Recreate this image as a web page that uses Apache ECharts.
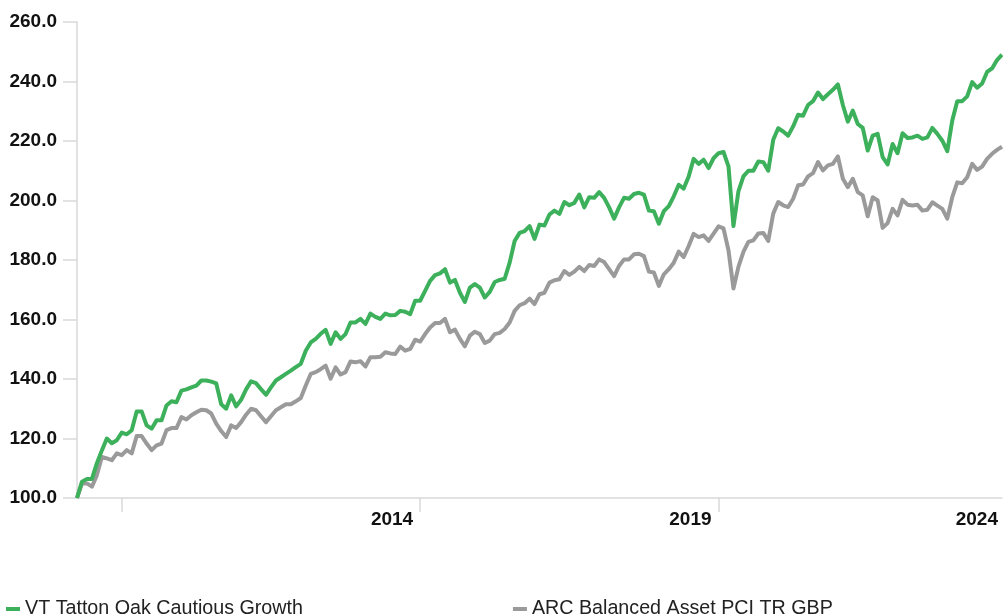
<!DOCTYPE html>
<html>
<head>
<meta charset="utf-8">
<script src="https://cdn.jsdelivr.net/npm/echarts@6/dist/echarts.min.js"></script>
<style>
  html, body { margin: 0; padding: 0; background: #fff; }
  #chart { width: 1003px; height: 616px; }
</style>
</head>
<body>
<div id="chart"></div>
<script>
// --- data ---
// month-end points, Mar 2009 .. Sep 2024
const startYear = 2009;
const startMonth = 3;
const seriesNames = ['VT Tatton Oak Cautious Growth', 'ARC Balanced Asset PCI TR GBP'];

const tattonValues = [
  100, 105.5, 106.4, 106.4, 111.7, 116, 120, 118.4, 119.4, 122,
  121.4, 122.8, 129.1, 129.1, 124.4, 123.3, 126.1, 126.1, 131.1, 132.5,
  132.2, 136.1, 136.5, 137.2, 137.8, 139.5, 139.5, 139.1, 138.5, 131.5,
  130, 134.5, 130.8, 133, 136.5, 139.2, 138.6, 136.6, 134.7, 137.2,
  139.5, 140.6, 141.7, 142.8, 144, 145.1, 149.5, 152.3, 153.5, 155.2,
  156.5, 151.8, 155.7, 153.5, 155.1, 159, 159, 160.2, 158.5, 162,
  160.9, 160.2, 162, 161.4, 161.5, 162.9, 162.6, 161.8, 166.3, 166.3,
  169.6, 173, 174.9, 175.5, 176.9, 172.4, 173.3, 169, 165.9, 170.7,
  171.9, 170.7, 167.4, 169.3, 172.6, 173.3, 173.7, 179.1, 186.4, 189.1,
  189.7, 191.4, 187.1, 191.9, 191.6, 195.3, 196.6, 195.5, 199.5, 198.4,
  199.2, 202, 197.7, 201.1, 200.9, 202.8, 200.9, 197.7, 193.9, 197.7,
  200.9, 200.6, 202.2, 202.6, 202, 196.6, 196.4, 192.2, 196.4, 198.1,
  201.4, 205.3, 204, 208.1, 214, 212.3, 213.7, 210.9, 214.2, 215.9,
  216.3, 211.5, 191.4, 203.1, 208.1, 210, 210, 213.1, 212.9, 210,
  220.4, 224.3, 223.2, 221.8, 224.9, 228.8, 228.5, 232.1, 233.4, 236.3,
  234.1, 235.7, 237.2, 239, 232.1, 226.5, 230.2, 225.7, 224.4, 216.8,
  221.8, 222.4, 214.6, 212.1, 219, 215.9, 222.6, 221, 221.2, 221.8,
  220.7, 221.2, 224.4, 222.4, 220.1, 216.6, 226.9, 233.4, 233.4, 235,
  239.8, 237.9, 239.3, 243.2, 244.4, 247.2, 249
];

const arcValues = [
  100, 104.9, 104.9, 103.8, 107.7, 113.8, 113.3, 112.7, 115, 114.4,
  116.1, 115, 120.8, 120.8, 118.3, 116.1, 117.7, 118.3, 122.8, 123.5,
  123.5, 127.2, 126.4, 127.8, 128.8, 129.7, 129.5, 128.4, 125, 122.5,
  120.5, 124.4, 123.5, 125.5, 128, 130, 129.5, 127.5, 125.5, 127.5,
  129.5, 130.5, 131.5, 131.5, 132.5, 133.6, 137.8, 141.7, 142.3, 143.3,
  144.5, 140.1, 143.9, 141.5, 142.3, 145.9, 145.6, 146, 144.2, 147.3,
  147.3, 147.5, 149, 148.6, 148.4, 150.9, 149.5, 150.1, 153.2, 152.6,
  155.1, 157.3, 158.8, 158.8, 160.2, 155.7, 156.6, 153.5, 151, 154.6,
  155.9, 155.1, 152.1, 152.9, 155.1, 155.5, 156.8, 159, 162.9, 164.8,
  165.5, 167, 165.2, 168.5, 169, 172.4, 173.2, 173.5, 176.3, 175,
  176.1, 177.7, 176.3, 178.3, 178, 180.2, 179.3, 176.9, 174.6, 178,
  180.2, 180.2, 181.9, 182.1, 181.3, 176.1, 175.8, 171.3, 175.2, 176.9,
  179.1, 182.8, 181, 184.7, 188.8, 187.7, 188.3, 186.4, 188.9, 191.3,
  190.6, 183.3, 170.4, 177.7, 182.7, 186.1, 186.6, 188.9, 189.1, 186.4,
  195.6, 199.5, 198.4, 197.8, 200.6, 205.1, 205.4, 208.1, 209.2, 212.9,
  210.1, 211.8, 212.3, 214.8, 207.3, 204.5, 207.3, 202.8, 201.7, 194.7,
  201.1, 200, 190.8, 192.4, 197.2, 195, 200.2, 198.6, 198.3, 198.6,
  196.6, 196.9, 199.4, 198.3, 197.2, 193.9, 201.1, 206.1, 205.8, 207.8,
  212.3, 210.3, 211.4, 214, 215.7, 217, 218.1
];

// x ticks sit on December of these years; labels on these categories
const tickMonths = ['2009-12', '2014-12', '2019-12'];
const labelMonths = ['2014-12', '2019-12', '2024-09'];

// --- categories ---
const months = [];
for (let i = 0; i < tattonValues.length; i++) {
    const m = startMonth - 1 + i;
    const y = startYear + Math.floor(m / 12);
    const mm = (m % 12) + 1;
    months.push(y + '-' + (mm < 10 ? '0' + mm : mm));
}

const font = '"Liberation Sans", Arial, Helvetica, sans-serif';
const green = '#3cb05b';
const grey = '#9a9a9a';
const axisGrey = '#d9d9d9';

const chart = echarts.init(document.getElementById('chart'));
chart.setOption({
    animation: false,
    backgroundColor: '#fff',
    grid: { left: 77, right: 1, top: 22, bottom: 118, containLabel: false },
    legend: {
        left: 6,
        top: 599,
        padding: 0,
        itemWidth: 14,
        itemHeight: 4,
        itemGap: 210,
        icon: 'rect',
        data: seriesNames,
        textStyle: { fontFamily: font, fontSize: 19.7, color: '#222' }
    },
    xAxis: {
        type: 'category',
        data: months,
        boundaryGap: false,
        axisLine: { lineStyle: { color: axisGrey, width: 1.5 } },
        axisTick: {
            show: true,
            length: 14,
            interval: (idx, val) => tickMonths.includes(val),
            lineStyle: { color: axisGrey, width: 1.5 }
        },
        axisLabel: {
            interval: (idx, val) => labelMonths.includes(val),
            formatter: (val) => {
                const y = val.slice(0, 4);
                return val === months[months.length - 1] ? '{e|' + y + '}' : '{n|' + y + '}';
            },
            align: 'right',
            margin: 12,
            color: '#111',
            fontFamily: font,
            fontSize: 19,
            fontWeight: 'bold',
            rich: {
                n: { fontFamily: font, fontSize: 19, fontWeight: 'bold', color: '#111', padding: [0, 7, 0, 0] },
                e: { fontFamily: font, fontSize: 19, fontWeight: 'bold', color: '#111', padding: [0, 4, 0, 0] }
            }
        },
        splitLine: { show: false }
    },
    yAxis: {
        type: 'value',
        min: 100,
        max: 260,
        interval: 20,
        axisLine: { show: true, lineStyle: { color: axisGrey, width: 1.5 } },
        axisTick: { show: true, length: 14, lineStyle: { color: axisGrey, width: 1.5 } },
        axisLabel: {
            formatter: (v) => v.toFixed(1),
            margin: 20,
            color: '#111',
            fontFamily: font,
            fontSize: 19,
            fontWeight: 'bold'
        },
        splitLine: { show: false }
    },
    series: [
        {
            name: seriesNames[0],
            type: 'line',
            data: tattonValues,
            showSymbol: false,
            symbol: 'none',
            z: 3,
            color: green,
            lineStyle: { color: green, width: 4, join: 'round' }
        },
        {
            name: seriesNames[1],
            type: 'line',
            data: arcValues,
            showSymbol: false,
            symbol: 'none',
            z: 2,
            color: grey,
            lineStyle: { color: grey, width: 4, join: 'round' }
        }
    ]
});
</script>
</body>
</html>
